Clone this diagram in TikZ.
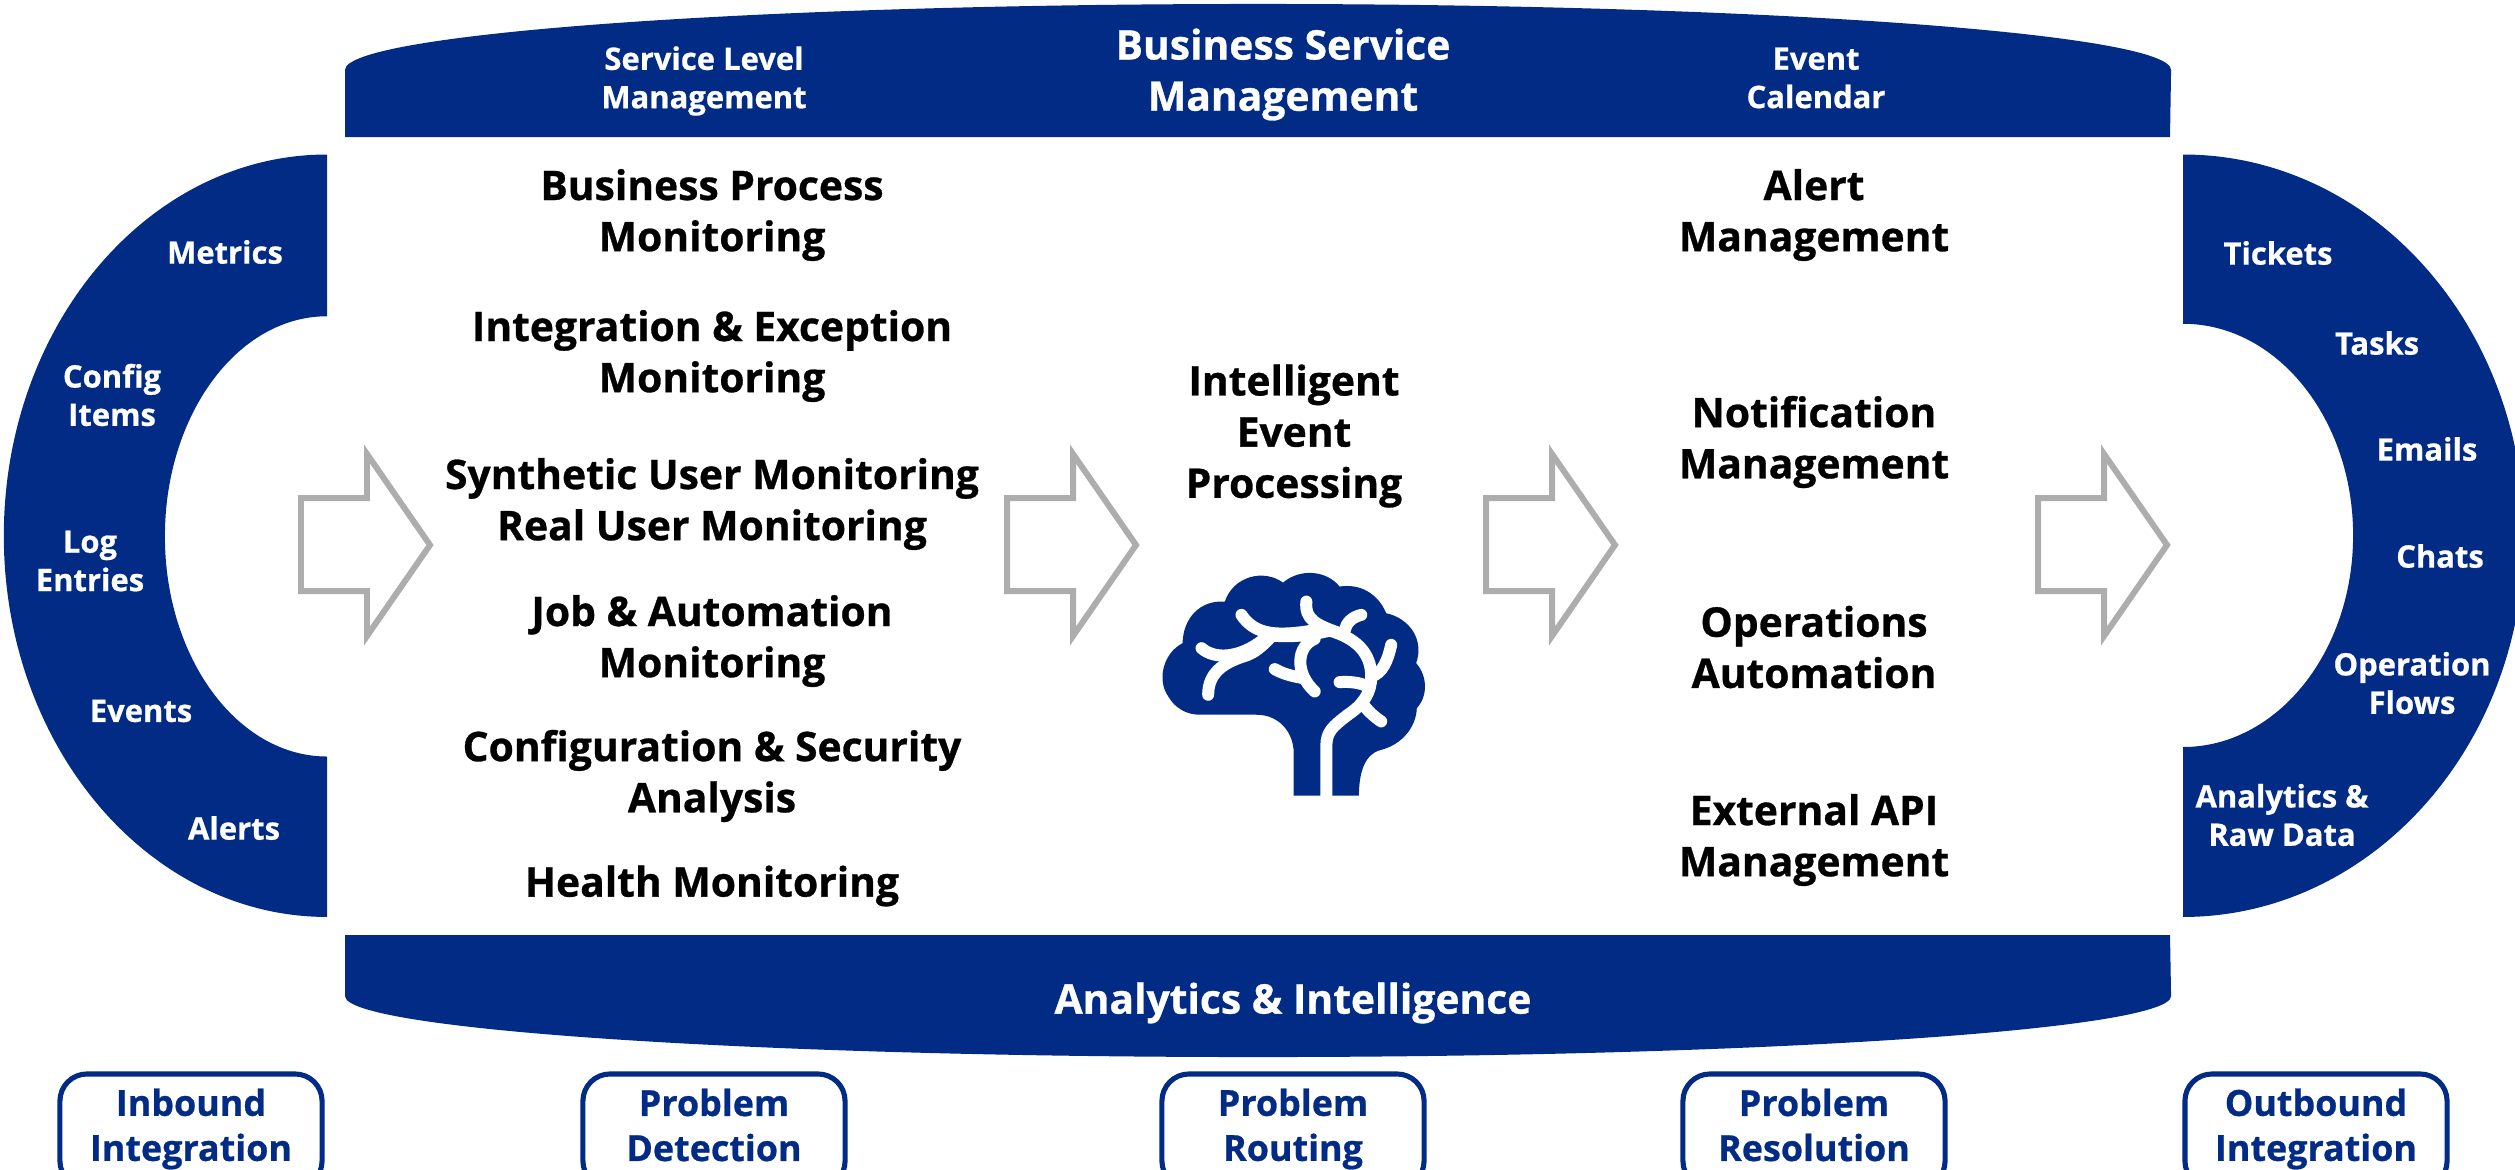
\documentclass[tikz,border=0pt]{standalone}
\usepackage{fontspec}
\setmainfont{Open Sans}[BoldFeatures={FakeBold=0.7}]
\definecolor{navy}{HTML}{022B85}
\definecolor{arrowgrey}{HTML}{ADADAD}
\tikzset{
  navyshape/.style={fill=navy,draw=none},
  txt/.style={align=center,inner sep=0pt,font=\bfseries\fontsize{11.6}{14.55}\selectfont},
  bodytxt/.style={txt,text=black},
  headtxt/.style={txt,text=white},
  smalltxt/.style={txt,text=white,font=\bfseries\fontsize{8.8}{10.9}\selectfont},
  stagebox/.style={draw=navy,line width=1.45pt,rounded corners=0.27cm,fill=white,minimum width=2.62cm,minimum height=1.14cm,inner sep=0pt},
  stagetxt/.style={txt,text=navy,font=\bfseries\fontsize{10.2}{12.8}\selectfont},
  blockarrow/.style={draw=arrowgrey,line width=1.7pt,fill=white,miter limit=10},
  vein/.style={draw=white,line width=0.12cm,line cap=round,line join=round}
}
\newcommand{\blockarr}[1]{\draw[blockarrow] (#1,498) -- ++(66,0) -- ++(0,-44) -- ++(63,91) -- ++(-63,91) -- ++(0,-45) -- ++(-66,0) -- cycle;}
\begin{document}
\begin{tikzpicture}[x=0.01cm,y=-0.01cm]
\clip (0,0) rectangle (2515,1169);
\fill[white] (0,0) rectangle (2515,1169);
% bands
\path[navyshape] (345,137) -- (345,70) arc[start angle=180,end angle=0,x radius=9.125cm,y radius=0.66cm] -- (2170,137) -- cycle;
\path[navyshape] (345,935) -- (345,996) arc[start angle=180,end angle=360,x radius=9.125cm,y radius=0.61cm] -- (2170,935) -- cycle;
% side shapes
\path[navyshape] (327,154.5) arc[start angle=90,end angle=270,x radius=3.23cm,y radius=3.81cm] -- (327,756.5) arc[start angle=270,end angle=90,x radius=1.62cm,y radius=2.2cm] -- cycle;
\path[navyshape] (2183,154.5) arc[start angle=90,end angle=-90,x radius=3.41cm,y radius=3.81cm] -- (2183,747) arc[start angle=-90,end angle=90,x radius=1.70cm,y radius=2.115cm] -- cycle;
% block arrows
\blockarr{301}
\blockarr{1007}
\blockarr{1486}
\blockarr{2038}
% brain
\begin{scope}[shift={(1100,540)},x=0.003333cm,y=-0.003333cm]
\path[navyshape] (300,525) -- (470,525) .. controls (540,525) and (582,580) .. (582,640) -- (582,768) -- (778,768)
  .. controls (778,700) and (795,645) .. (840,632)
  .. controls (910,615) and (950,560) .. (952,505)
  .. controls (985,470) and (985,410) .. (950,370)
  .. controls (975,300) and (930,235) .. (860,220)
  .. controls (835,160) and (780,130) .. (720,140)
  .. controls (680,90) and (600,85) .. (550,128)
  .. controls (490,85) and (400,110) .. (375,185)
  .. controls (300,180) and (250,235) .. (248,310)
  .. controls (190,340) and (170,420) .. (205,470)
  .. controls (225,505) and (260,525) .. (300,525) -- cycle;
\draw[vein,line cap=butt] (680,775) -- (680,620) .. controls (680,575) and (700,560) .. (745,525);
\draw[vein] (745,525) .. controls (790,495) and (815,460) .. (815,410) .. controls (815,340) and (770,295) .. (690,272) .. controls (640,285) and (570,295) .. (500,285);
\draw[vein] (425,225) .. controls (465,285) and (530,290) .. (640,272);
\draw[vein] (620,185) .. controls (615,240) and (650,255) .. (720,280);
\draw[vein] (785,225) .. controls (755,232) and (740,250) .. (735,272);
\draw[vein] (875,315) .. controls (865,360) and (850,400) .. (815,410);
\draw[vein] (720,427) .. controls (750,425) and (780,428) .. (805,440);
\draw[vein] (845,545) .. controls (825,532) and (810,518) .. (795,500);
\draw[vein] (305,325) .. controls (345,360) and (420,355) .. (490,300);
\draw[vein] (325,465) .. controls (325,400) and (370,370) .. (430,350) .. controls (465,340) and (485,320) .. (510,295);
\draw[vein] (645,297) .. controls (590,320) and (585,400) .. (645,455);
\draw[vein] (525,388) .. controls (555,405) and (585,410) .. (610,415);
\end{scope}
% head labels
\node[smalltxt] (sla) at (704,81) {Service Level\\Management};
\node[headtxt] (bsm) at (1283,74.5) {Business Service\\Management};
\node[smalltxt] (cal) at (1816,78) {Event\\Calendar};
\node[headtxt] (ai) at (1293,1003) {Analytics \& Intelligence};
% inbound
\node[smalltxt] (metrics) at (225,252) {Metrics};
\node[smalltxt] (config) at (112,395) {Config\\Items};
\node[smalltxt] (log) at (90,561) {Log\\Entries};
\node[smalltxt] (events) at (141,711) {Events};
\node[smalltxt] (alerts) at (234,828) {Alerts};
% outbound
\node[smalltxt] (tickets) at (2278,253) {Tickets};
\node[smalltxt] (tasks) at (2377,343) {Tasks};
\node[smalltxt] (emails) at (2427,449) {Emails};
\node[smalltxt] (chats) at (2440,556) {Chats};
\node[smalltxt] (flows) at (2412,683) {Operation\\Flows};
\node[smalltxt] (raw) at (2282,815) {Analytics \&\\Raw Data};
% body
\node[bodytxt] (bpm) at (712,215) {Business Process\\Monitoring};
\node[bodytxt] (iem) at (712,356) {Integration \& Exception\\Monitoring};
\node[bodytxt] (sum) at (712,504) {Synthetic User Monitoring\\Real User Monitoring};
\node[bodytxt] (jam) at (712,641) {Job \& Automation\\Monitoring};
\node[bodytxt] (csa) at (712,776) {Configuration \& Security\\Analysis};
\node[bodytxt] (hm) at (712,886) {Health Monitoring};
\node[bodytxt] (iep) at (1294,436) {Intelligent\\Event\\Processing};
\node[bodytxt] (am) at (1814,215) {Alert\\Management};
\node[bodytxt] (nm) at (1814,442) {Notification\\Management};
\node[bodytxt] (oa) at (1814,647) {Operations\\Automation};
\node[bodytxt] (api) at (1814,840) {External API\\Management};
% stage boxes
\node[stagebox] (b1) at (191,1131) {};
\node[stagebox] (b2) at (714,1131) {};
\node[stagebox] (b3) at (1293,1131) {};
\node[stagebox] (b4) at (1814,1131) {};
\node[stagebox] (b5) at (2316,1131) {};
\node[stagetxt] (t1) at (191,1129) {Inbound\\Integration};
\node[stagetxt] (t2) at (714,1125) {Problem\\Detection};
\node[stagetxt] (t3) at (1293,1129) {Problem\\Routing};
\node[stagetxt] (t4) at (1814,1125) {Problem\\Resolution};
\node[stagetxt] (t5) at (2316,1129) {Outbound\\Integration};
\end{tikzpicture}
\end{document}
